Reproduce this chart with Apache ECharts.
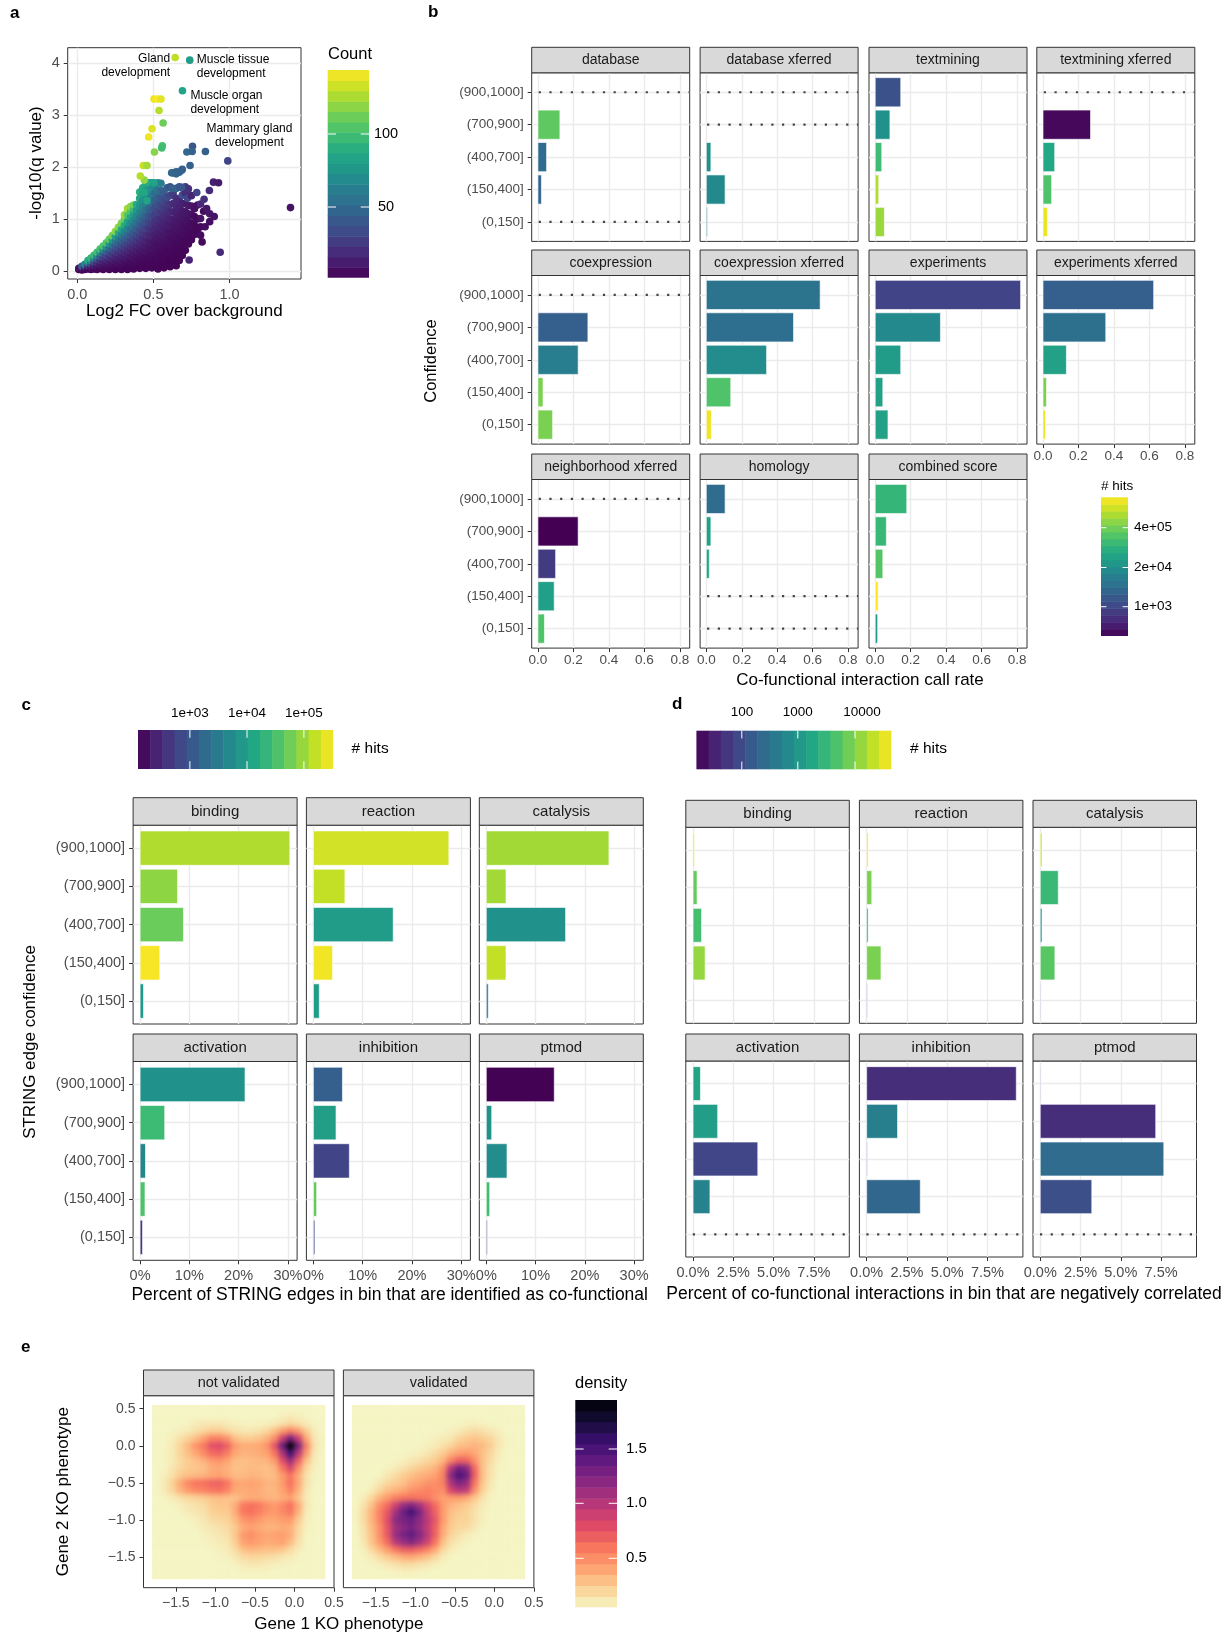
<!DOCTYPE html>
<html>
<head>
<meta charset="utf-8">
<script src="https://cdn.jsdelivr.net/npm/echarts@6.0.0/dist/echarts.min.js"></script>
<style>
  html, body { margin: 0; padding: 0; background: #fff; }
  #chart { width: 1228px; height: 1635px; }
</style>
</head>
<body>
<div id="chart"></div>
<script>
// ---------- data ----------
const binLabels = ['(900,1000]', '(700,900]', '(400,700]', '(150,400]', '(0,150]'];

// panel a: [log2 FC, -log10 q, count]
const aNamed = ['Gland\ndevelopment', 'Muscle tissue\ndevelopment', 'Muscle organ\ndevelopment', 'Mammary gland\ndevelopment'];
const aNamedPts = [[0.643, 4.11, 130], [0.739, 4.06, 80], [0.691, 3.47, 84], [0.842, 2.30, 45]];
const aPoints = [
  [0.01, 0.03, 4], [0.01, 0.05, 8],
  [0.03, 0.02, 3], [0.03, 0.05, 10], [0.03, 0.09, 45],
  [0.05, 0.03, 4], [0.05, 0.08, 22], [0.05, 0.13, 66],
  [0.07, 0.04, 5], [0.07, 0.1, 20], [0.07, 0.16, 60], [0.07, 0.2, 88],
  [0.09, 0.03, 4], [0.09, 0.08, 12], [0.09, 0.14, 32], [0.09, 0.2, 70], [0.09, 0.25, 95],
  [0.11, 0.04, 5], [0.11, 0.1, 13], [0.11, 0.17, 32], [0.11, 0.24, 62], [0.11, 0.3, 96],
  [0.13, 0.03, 4], [0.13, 0.09, 9], [0.13, 0.16, 20], [0.13, 0.23, 40], [0.13, 0.3, 68], [0.13, 0.36, 100],
  [0.15, 0.05, 5], [0.15, 0.12, 11], [0.15, 0.2, 22], [0.15, 0.28, 42], [0.15, 0.36, 72], [0.15, 0.42, 102],
  [0.17, 0.03, 4], [0.17, 0.1, 8], [0.17, 0.18, 15], [0.17, 0.26, 28], [0.17, 0.34, 46], [0.17, 0.42, 74], [0.17, 0.48, 104],
  [0.19, 0.06, 5], [0.19, 0.14, 10], [0.19, 0.22, 18], [0.19, 0.3, 30], [0.19, 0.38, 47], [0.19, 0.46, 72], [0.19, 0.54, 106],
  [0.21, 0.03, 4], [0.21, 0.1, 7], [0.21, 0.18, 13], [0.21, 0.27, 22], [0.21, 0.36, 35], [0.21, 0.45, 53], [0.21, 0.53, 78], [0.21, 0.61, 110],
  [0.23, 0.06, 5], [0.23, 0.14, 9], [0.23, 0.23, 16], [0.23, 0.32, 26], [0.23, 0.42, 40], [0.23, 0.51, 58], [0.23, 0.6, 82], [0.23, 0.68, 114],
  [0.25, 0.03, 3], [0.25, 0.1, 6], [0.25, 0.19, 11], [0.25, 0.28, 18], [0.25, 0.38, 29], [0.25, 0.48, 42], [0.25, 0.58, 60], [0.25, 0.67, 84], [0.25, 0.76, 120],
  [0.27, 0.06, 4], [0.27, 0.15, 8], [0.27, 0.24, 13], [0.27, 0.34, 21], [0.27, 0.44, 32], [0.27, 0.54, 46], [0.27, 0.64, 63], [0.27, 0.74, 88], [0.27, 0.84, 118],
  [0.29, 0.03, 3], [0.29, 0.11, 6], [0.29, 0.2, 10], [0.29, 0.3, 16], [0.29, 0.4, 24], [0.29, 0.5, 35], [0.29, 0.6, 48], [0.29, 0.7, 65], [0.29, 0.8, 86], [0.29, 0.92, 115],
  [0.31, 0.07, 4], [0.31, 0.16, 7], [0.31, 0.26, 12], [0.31, 0.36, 18], [0.31, 0.46, 27], [0.31, 0.56, 38], [0.31, 0.66, 50], [0.31, 0.76, 66], [0.31, 0.88, 88], [0.31, 1.0, 112], [0.31, 1.08, 122],
  [0.33, 0.03, 3], [0.33, 0.12, 5], [0.33, 0.22, 9], [0.33, 0.32, 14], [0.33, 0.42, 20], [0.33, 0.52, 29], [0.33, 0.62, 40], [0.33, 0.72, 52], [0.33, 0.82, 66], [0.33, 0.95, 84], [0.33, 1.08, 105], [0.33, 1.2, 124],
  [0.35, 0.08, 4], [0.35, 0.18, 6], [0.35, 0.28, 10], [0.35, 0.38, 15], [0.35, 0.48, 22], [0.35, 0.58, 30], [0.35, 0.68, 41], [0.35, 0.8, 54], [0.35, 0.92, 68], [0.35, 1.05, 86], [0.35, 1.15, 104], [0.35, 1.24, 120],
  [0.37, 0.04, 3], [0.37, 0.14, 5], [0.37, 0.24, 8], [0.37, 0.34, 12], [0.37, 0.44, 17], [0.37, 0.54, 24], [0.37, 0.64, 32], [0.37, 0.74, 42], [0.37, 0.86, 55], [0.37, 0.98, 68], [0.37, 1.1, 82], [0.37, 1.2, 96], [0.37, 1.27, 112],
  [0.39, 0.1, 4], [0.39, 0.2, 6], [0.39, 0.3, 9], [0.39, 0.4, 13], [0.39, 0.5, 18], [0.39, 0.6, 25], [0.39, 0.7, 33], [0.39, 0.82, 43], [0.39, 0.94, 55], [0.39, 1.06, 67], [0.39, 1.18, 78], [0.39, 1.28, 88],
  [0.41, 0.05, 3], [0.41, 0.16, 5], [0.41, 0.26, 7], [0.41, 0.36, 10], [0.41, 0.46, 14], [0.41, 0.56, 19], [0.41, 0.66, 26], [0.41, 0.78, 34], [0.41, 0.9, 44], [0.41, 1.02, 55], [0.41, 1.14, 66], [0.41, 1.26, 76], [0.41, 1.4, 86], [0.41, 1.52, 92],
  [0.43, 0.1, 4], [0.43, 0.22, 5], [0.43, 0.32, 8], [0.43, 0.42, 11], [0.43, 0.52, 15], [0.43, 0.62, 20], [0.43, 0.74, 27], [0.43, 0.86, 36], [0.43, 0.98, 45], [0.43, 1.1, 55], [0.43, 1.22, 64], [0.43, 1.35, 73], [0.43, 1.5, 82], [0.43, 1.6, 88],
  [0.45, 0.05, 3], [0.45, 0.17, 4], [0.45, 0.28, 6], [0.45, 0.38, 9], [0.45, 0.48, 12], [0.45, 0.58, 16], [0.45, 0.7, 22], [0.45, 0.82, 29], [0.45, 0.94, 37], [0.45, 1.06, 46], [0.45, 1.18, 55], [0.45, 1.3, 64], [0.45, 1.45, 74], [0.45, 1.55, 80], [0.45, 1.7, 84],
  [0.47, 0.12, 4], [0.47, 0.24, 5], [0.47, 0.35, 7], [0.47, 0.46, 10], [0.47, 0.58, 13], [0.47, 0.7, 18], [0.47, 0.82, 24], [0.47, 0.94, 30], [0.47, 1.06, 38], [0.47, 1.2, 47], [0.47, 1.34, 58], [0.47, 1.48, 68], [0.47, 1.62, 76], [0.47, 1.7, 80],
  [0.49, 0.06, 3], [0.49, 0.18, 4], [0.49, 0.3, 6], [0.49, 0.42, 8], [0.49, 0.54, 11], [0.49, 0.66, 15], [0.49, 0.78, 20], [0.49, 0.9, 25], [0.49, 1.02, 32], [0.49, 1.16, 40], [0.49, 1.3, 50], [0.49, 1.44, 60], [0.49, 1.58, 70], [0.49, 1.7, 76],
  [0.51, 0.1, 3], [0.51, 0.22, 4], [0.51, 0.34, 6], [0.51, 0.46, 8], [0.51, 0.58, 10], [0.51, 0.7, 13], [0.51, 0.82, 17], [0.51, 0.95, 22], [0.51, 1.08, 28], [0.51, 1.22, 35], [0.51, 1.36, 44], [0.51, 1.5, 54], [0.51, 1.62, 64],
  [0.53, 0.04, 3], [0.53, 0.16, 4], [0.53, 0.28, 5], [0.53, 0.4, 6], [0.53, 0.52, 8], [0.53, 0.64, 11], [0.53, 0.76, 14], [0.53, 0.88, 18], [0.53, 1.0, 23], [0.53, 1.14, 29], [0.53, 1.28, 37], [0.53, 1.42, 46], [0.53, 1.56, 56], [0.53, 1.7, 68],
  [0.55, 0.12, 3], [0.55, 0.24, 4], [0.55, 0.36, 5], [0.55, 0.48, 7], [0.55, 0.6, 9], [0.55, 0.72, 12], [0.55, 0.84, 15], [0.55, 0.98, 19], [0.55, 1.12, 25], [0.55, 1.26, 31], [0.55, 1.4, 39], [0.55, 1.55, 48], [0.55, 1.69, 62],
  [0.57, 0.06, 3], [0.57, 0.2, 4], [0.57, 0.32, 4], [0.57, 0.44, 6], [0.57, 0.56, 8], [0.57, 0.68, 10], [0.57, 0.8, 13], [0.57, 0.94, 16], [0.57, 1.08, 21], [0.57, 1.22, 27], [0.57, 1.35, 33], [0.57, 1.5, 42],
  [0.59, 0.14, 3], [0.59, 0.28, 4], [0.59, 0.4, 5], [0.59, 0.52, 7], [0.59, 0.64, 9], [0.59, 0.76, 11], [0.59, 0.9, 14], [0.59, 1.04, 18], [0.59, 1.18, 23], [0.59, 1.3, 28], [0.59, 1.42, 34], [0.59, 1.6, 44],
  [0.61, 0.08, 3], [0.61, 0.22, 3], [0.61, 0.36, 4], [0.61, 0.5, 6], [0.61, 0.62, 7], [0.61, 0.74, 9], [0.61, 0.88, 12], [0.61, 1.0, 15], [0.61, 1.14, 19], [0.61, 1.28, 24], [0.61, 1.45, 30], [0.61, 1.62, 38],
  [0.63, 0.16, 3], [0.63, 0.3, 4], [0.63, 0.44, 5], [0.63, 0.58, 6], [0.63, 0.72, 8], [0.63, 0.86, 10], [0.63, 1.0, 13], [0.63, 1.14, 16], [0.63, 1.3, 20], [0.63, 1.5, 27], [0.63, 1.89, 50],
  [0.65, 0.1, 3], [0.65, 0.26, 3], [0.65, 0.4, 4], [0.65, 0.54, 5], [0.65, 0.68, 7], [0.65, 0.82, 9], [0.65, 0.96, 11], [0.65, 1.1, 14], [0.65, 1.25, 17], [0.65, 1.4, 21], [0.65, 1.59, 48], [0.65, 1.91, 46],
  [0.67, 0.2, 3], [0.67, 0.34, 4], [0.67, 0.5, 5], [0.67, 0.64, 6], [0.67, 0.78, 8], [0.67, 0.92, 10], [0.67, 1.06, 12], [0.67, 1.2, 15], [0.67, 1.35, 18], [0.67, 1.62, 40], [0.67, 1.9, 45],
  [0.69, 0.3, 3], [0.69, 0.45, 4], [0.69, 0.6, 5], [0.69, 0.74, 7], [0.69, 0.88, 8], [0.69, 1.02, 10], [0.69, 1.16, 12], [0.69, 1.3, 15], [0.69, 1.46, 36], [0.69, 1.6, 38], [0.69, 1.96, 44],
  [0.71, 0.4, 3], [0.71, 0.56, 4], [0.71, 0.7, 6], [0.71, 0.84, 7], [0.71, 1.0, 9], [0.71, 1.14, 11], [0.71, 1.3, 13], [0.71, 1.5, 20], [0.71, 1.62, 24],
  [0.735, 0.21, 16], [0.73, 0.52, 4], [0.73, 0.66, 5], [0.73, 0.8, 6], [0.73, 0.95, 8], [0.73, 1.1, 10], [0.73, 1.26, 12], [0.724, 1.4, 32], [0.73, 1.58, 22], [0.741, 2.03, 44], [0.72, 2.29, 50],
  [0.75, 0.6, 4], [0.75, 0.76, 5], [0.75, 0.92, 6], [0.75, 1.08, 8], [0.75, 1.25, 10], [0.75, 1.45, 16], [0.757, 2.4, 40], [0.755, 2.3, 46],
  [0.77, 0.7, 4], [0.77, 0.88, 5], [0.77, 1.05, 6], [0.77, 1.2, 8], [0.785, 1.51, 30],
  [0.79, 0.8, 4], [0.79, 1.0, 5], [0.79, 1.27, 8],
  [0.82, 0.56, 6], [0.81, 0.69, 6], [0.81, 0.85, 5], [0.81, 1.01, 9], [0.81, 1.29, 18], [0.833, 1.38, 22],
  [0.84, 0.85, 7], [0.83, 1.15, 6], [0.85, 1.2, 10], [0.87, 1.1, 10], [0.87, 0.95, 7],
  [0.868, 1.55, 20], [0.895, 1.71, 14], [0.928, 1.7, 12], [0.9, 1.05, 9], [0.939, 0.36, 19],
  [0.62, 1.89, 48], [0.65, 1.87, 47], [0.686, 1.94, 45], [0.623, 1.59, 46], [0.686, 1.61, 40],
  [0.989, 2.12, 30], [1.401, 1.22, 9],
  [0.44, 1.51, 86], [0.458, 1.35, 84], [0.456, 1.7, 88], [0.504, 1.7, 83],
  [0.44, 1.75, 120], [0.414, 1.83, 128], [0.434, 2.03, 132], [0.458, 2.03, 124],
  [0.507, 2.29, 118], [0.559, 2.41, 102], [0.555, 2.37, 100], [0.469, 2.58, 141],
  [0.491, 2.74, 136], [0.564, 2.85, 112], [0.537, 3.09, 128],
  [0.504, 3.31, 140], [0.527, 3.31, 144], [0.55, 3.31, 138]
];

// panel b: co-functional call rate per confidence bin (top bin first), null = no edges
const bFacets = ['database', 'database xferred', 'textmining', 'textmining xferred',
  'coexpression', 'coexpression xferred', 'experiments', 'experiments xferred',
  'neighborhood xferred', 'homology', 'combined score'];
const bRate = [
  [null, 0.124, 0.049, 0.020, null],
  [null, null, 0.026, 0.106, 0.006],
  [0.144, 0.083, 0.037, 0.020, 0.052],
  [null, 0.268, 0.066, 0.049, 0.026],
  [null, 0.282, 0.227, 0.029, 0.083],
  [0.642, 0.492, 0.340, 0.138, 0.029],
  [0.820, 0.368, 0.144, 0.043, 0.072],
  [0.624, 0.354, 0.132, 0.020, 0.014],
  [null, 0.227, 0.100, 0.092, 0.037],
  [0.106, 0.026, 0.017, null, null],
  [0.178, 0.063, 0.043, 0.017, 0.014]
];
const bHits = [
  [null, 2.9e5, 4.3e3, 3.5e3, null],
  [null, null, 2.1e4, 1.5e4, 1.2e4],
  [1.5e3, 2.1e4, 1.4e5, 1.1e6, 8e5],
  [null, 135, 5.9e4, 2.1e5, 2.9e6],
  [null, 2.5e3, 9e3, 4.9e5, 4.9e5],
  [5.9e3, 4.8e3, 1.7e4, 2.1e5, 3.2e6],
  [900, 1.5e4, 3.5e4, 4.4e4, 4.4e4],
  [2.5e3, 5.2e3, 4.4e4, 4.9e5, 2.9e6],
  [null, 110, 650, 3.9e4, 2.1e5],
  [4.3e3, 4.4e4, 5.9e4, null, null],
  [1.1e5, 1.2e5, 2.3e5, 4e6, 3.5e4]
];

// panels c and d: STRING action types
const cFacets = ['binding', 'reaction', 'catalysis', 'activation', 'inhibition', 'ptmod'];
const cRate = [
  [0.304, 0.076, 0.088, 0.040, 0.007],
  [0.275, 0.064, 0.162, 0.039, 0.012],
  [0.249, 0.040, 0.161, 0.040, 0.004],
  [0.213, 0.050, 0.011, 0.010, 0.005],
  [0.059, 0.046, 0.073, 0.0067, 0.003],
  [0.138, 0.011, 0.042, 0.007, 0.002]
];
const cHits = [
  [1.26e5, 8.5e4, 5.3e4, 3e5, 8e3],
  [1.9e5, 1.6e5, 9.3e3, 2.8e5, 9.3e3],
  [1.07e5, 1.07e5, 6.3e3, 1.6e5, 2.9e3],
  [6.3e3, 2.6e4, 4.3e3, 3.5e4, 510],
  [1.3e3, 1e4, 590, 4.9e4, 690],
  [125, 6.3e3, 5.4e3, 2.8e4, 590]
];
const dRate = [
  [0.0009, 0.0025, 0.0053, 0.0075, 0.0002],
  [0.0009, 0.0032, 0.0009, 0.0089, 0.0002],
  [0.0011, 0.0112, 0.0011, 0.0091, 0.0002],
  [0.0046, 0.0153, 0.0402, 0.0105, null],
  [0.0929, 0.0192, 0.0002, 0.0333, null],
  [0.0002, 0.0717, 0.0767, 0.0320, null]
];
const dHits = [
  [3.5e4, 6.6e3, 4.1e3, 1.26e4, 35],
  [3.5e4, 9.1e3, 1.26e3, 9.1e3, 35],
  [2.4e4, 3.2e3, 980, 5.6e3, 35],
  [1.6e3, 1.26e3, 83, 520, null],
  [45, 480, 35, 220, null],
  [35, 45, 260, 107, null]
];

// panel e: 2D density of KO phenotypes, cell centres
const eCols = [-1.75, -1.65, -1.55, -1.45, -1.35, -1.25, -1.15, -1.05, -0.95, -0.85, -0.75,
  -0.65, -0.55, -0.45, -0.35, -0.25, -0.15, -0.05, 0.05, 0.15, 0.25, 0.35];
const eRows = [0.5, 0.4, 0.3, 0.2, 0.1, 0.0, -0.1, -0.2, -0.3, -0.4, -0.5, -0.6,
  -0.7, -0.8, -0.9, -1.0, -1.1, -1.2, -1.3, -1.4, -1.5, -1.6, -1.7, -1.8];
const eNotValidated = [
  [.05,.05,.05,.05,.05,.05,.05,.05,.05,.05,.05,.05,.05,.05,.05,.05,.05,.05,.05,.05,.05,.05],
  [.05,.05,.05,.05,.05,.05,.05,.05,.05,.05,.05,.05,.05,.05,.05,.05,.08,.1,.08,.06,.05,.05],
  [.05,.05,.05,.05,.06,.1,.12,.12,.12,.1,.08,.07,.07,.07,.08,.1,.15,.2,.15,.1,.06,.05],
  [.05,.05,.06,.08,.1,.15,.2,.25,.25,.2,.15,.12,.12,.15,.2,.3,.45,.55,.45,.25,.1,.05],
  [.05,.05,.08,.15,.22,.3,.42,.55,.55,.48,.3,.25,.25,.28,.35,.5,.9,1.3,.9,.4,.12,.06],
  [.05,.06,.1,.2,.32,.48,.58,.78,.82,.7,.45,.38,.38,.4,.48,.75,1.35,1.95,1.3,.55,.15,.06],
  [.05,.06,.1,.2,.3,.4,.52,.65,.68,.58,.4,.35,.36,.38,.42,.6,1.05,1.55,1.0,.45,.12,.05],
  [.05,.06,.1,.18,.25,.3,.36,.45,.48,.42,.32,.3,.32,.33,.35,.45,.8,1.15,.7,.3,.1,.05],
  [.05,.06,.12,.2,.25,.28,.3,.38,.4,.36,.3,.3,.32,.32,.3,.35,.6,.85,.5,.2,.08,.05],
  [.05,.08,.15,.25,.3,.32,.35,.4,.42,.38,.32,.32,.35,.33,.3,.32,.45,.6,.38,.15,.06,.05],
  [.05,.1,.22,.38,.52,.6,.62,.68,.7,.6,.42,.4,.42,.4,.35,.35,.45,.62,.4,.15,.06,.05],
  [.05,.1,.2,.34,.45,.52,.55,.6,.62,.55,.4,.38,.4,.38,.33,.33,.42,.55,.35,.12,.05,.05],
  [.05,.06,.1,.15,.2,.22,.25,.3,.32,.3,.3,.35,.38,.38,.35,.33,.38,.42,.28,.1,.05,.05],
  [.05,.05,.06,.08,.12,.15,.18,.25,.28,.28,.38,.58,.62,.58,.5,.45,.52,.62,.38,.12,.05,.05],
  [.05,.05,.05,.06,.1,.12,.15,.22,.25,.25,.38,.58,.62,.55,.48,.45,.52,.58,.35,.1,.05,.05],
  [.05,.05,.05,.05,.06,.08,.12,.18,.2,.22,.32,.46,.5,.46,.4,.4,.44,.45,.26,.08,.05,.05],
  [.05,.05,.05,.05,.05,.06,.1,.12,.15,.18,.26,.38,.42,.38,.35,.35,.38,.36,.2,.07,.05,.05],
  [.05,.05,.05,.05,.05,.05,.07,.1,.12,.15,.27,.45,.5,.44,.4,.42,.44,.38,.18,.06,.05,.05],
  [.05,.05,.05,.05,.05,.05,.06,.08,.1,.12,.24,.42,.46,.42,.38,.4,.42,.32,.15,.06,.05,.05],
  [.05,.05,.05,.05,.05,.05,.05,.06,.08,.1,.18,.3,.34,.32,.3,.3,.27,.18,.1,.05,.05,.05],
  [.05,.05,.05,.05,.05,.05,.05,.05,.06,.07,.12,.18,.2,.2,.18,.16,.12,.1,.06,.05,.05,.05],
  [.05,.05,.05,.05,.05,.05,.05,.05,.05,.05,.07,.1,.12,.12,.1,.08,.07,.06,.05,.05,.05,.05],
  [.05,.05,.05,.05,.05,.05,.05,.05,.05,.05,.05,.06,.06,.06,.06,.05,.05,.05,.05,.05,.05,.05],
  [.05,.05,.05,.05,.05,.05,.05,.05,.05,.05,.05,.05,.05,.05,.05,.05,.05,.05,.05,.05,.05,.05]
];
const eValidated = [
  [.05,.05,.05,.05,.05,.05,.05,.05,.05,.05,.05,.05,.05,.05,.05,.05,.05,.05,.05,.05,.05,.05],
  [.05,.05,.05,.05,.05,.05,.05,.05,.05,.05,.05,.05,.05,.05,.05,.05,.05,.05,.05,.05,.05,.05],
  [.05,.05,.05,.05,.05,.05,.05,.05,.05,.05,.05,.05,.05,.06,.07,.08,.07,.06,.05,.05,.05,.05],
  [.05,.05,.05,.05,.05,.05,.05,.05,.05,.05,.05,.06,.08,.1,.15,.18,.15,.12,.08,.05,.05,.05],
  [.05,.05,.05,.05,.05,.05,.05,.05,.05,.06,.08,.1,.12,.2,.25,.28,.25,.2,.12,.06,.05,.05],
  [.05,.05,.05,.05,.05,.05,.05,.05,.06,.08,.1,.15,.22,.3,.32,.35,.32,.25,.12,.06,.05,.05],
  [.05,.05,.05,.05,.05,.05,.06,.07,.08,.12,.18,.25,.35,.42,.45,.4,.3,.2,.1,.05,.05,.05],
  [.05,.05,.05,.05,.05,.06,.08,.12,.15,.2,.25,.35,.55,.7,.68,.5,.3,.18,.08,.05,.05,.05],
  [.05,.05,.05,.05,.07,.1,.15,.2,.25,.3,.35,.5,1.0,1.3,1.2,.65,.3,.15,.06,.05,.05,.05],
  [.05,.05,.05,.06,.12,.18,.25,.3,.35,.38,.42,.55,1.2,1.5,1.35,.7,.3,.15,.06,.05,.05,.05],
  [.05,.05,.06,.12,.2,.25,.3,.38,.42,.48,.5,.55,1.05,1.25,1.15,.6,.28,.12,.05,.05,.05,.05],
  [.05,.05,.1,.2,.3,.35,.4,.48,.52,.55,.52,.5,.85,1.0,.95,.5,.22,.1,.05,.05,.05,.05],
  [.05,.1,.2,.35,.45,.55,.6,.62,.6,.58,.5,.42,.45,.45,.4,.28,.15,.07,.05,.05,.05,.05],
  [.06,.15,.3,.5,.65,.9,1.15,1.25,1.1,.85,.65,.45,.35,.3,.25,.18,.1,.06,.05,.05,.05,.05],
  [.06,.18,.35,.55,.75,1.1,1.35,1.55,1.3,.95,.7,.45,.3,.25,.22,.15,.08,.05,.05,.05,.05,.05],
  [.06,.18,.35,.55,.8,1.2,1.3,1.35,1.2,1.0,.75,.45,.28,.22,.22,.15,.08,.05,.05,.05,.05,.05],
  [.05,.15,.32,.5,.75,1.1,1.2,1.3,1.15,.95,.7,.4,.25,.2,.18,.12,.06,.05,.05,.05,.05,.05],
  [.05,.15,.3,.5,.75,1.15,1.3,1.4,1.25,1.0,.7,.38,.22,.15,.1,.07,.05,.05,.05,.05,.05,.05],
  [.05,.12,.28,.45,.65,1.0,1.15,1.25,1.1,.9,.6,.3,.15,.1,.07,.05,.05,.05,.05,.05,.05,.05],
  [.05,.08,.2,.32,.45,.6,.7,.72,.65,.55,.4,.2,.1,.07,.05,.05,.05,.05,.05,.05,.05,.05],
  [.05,.06,.1,.18,.25,.32,.38,.4,.35,.3,.2,.1,.06,.05,.05,.05,.05,.05,.05,.05,.05,.05],
  [.05,.05,.06,.08,.12,.15,.18,.18,.15,.12,.08,.06,.05,.05,.05,.05,.05,.05,.05,.05,.05,.05],
  [.05,.05,.05,.05,.06,.07,.08,.08,.07,.06,.05,.05,.05,.05,.05,.05,.05,.05,.05,.05,.05,.05],
  [.05,.05,.05,.05,.05,.05,.05,.05,.05,.05,.05,.05,.05,.05,.05,.05,.05,.05,.05,.05,.05,.05]
];

// ---------- colours ----------
const FONT = '"Liberation Sans", Arial, Helvetica, sans-serif';
const VIRIDIS = ['#440154', '#482475', '#414487', '#355f8d', '#2a788e', '#21918c', '#22a884', '#44bf70', '#7ad151', '#bddf26', '#fde725'];
const MAGMA = ['#000004', '#140e36', '#3b0f70', '#641a80', '#8c2981', '#b73779', '#de4968', '#f7705c', '#fe9f6d', '#fbcf92', '#f5f5c4'];

function rgbOf(h) { return [1, 3, 5].map(k => parseInt(h.slice(k, k + 2), 16)); }
function palette(stops, t) {
  t = Math.max(0, Math.min(1, t));
  const p = t * (stops.length - 1);
  const i = Math.min(Math.floor(p), stops.length - 2);
  const f = p - i, a = rgbOf(stops[i]), b = rgbOf(stops[i + 1]);
  return 'rgb(' + a.map((v, k) => Math.round(v + (b[k] - v) * f)).join(',') + ')';
}
const countColor = c => palette(VIRIDIS, (c - 1.6) / 142.2);
const bColor = h => palette(VIRIDIS, (Math.log10(h) - 2.035) / 4.565);
const cColor = h => palette(VIRIDIS, (Math.log10(h) - 2.09) / 3.42);
const dColor = h => palette(VIRIDIS, (Math.log10(h) - 1.2) / 3.45);
const densityColor = v => palette(MAGMA, 1 - (v - 0.05) / 1.9);

// ---------- builders ----------
const grids = [], xAxes = [], yAxes = [], series = [], graphics = [];

function makeAxis(gi, s) {
  return {
    type: 'value', gridIndex: gi, min: s.min, max: s.max,
    axisLine: { show: false, onZero: false },
    axisTick: { show: !!s.labels, length: 4, lineStyle: { color: '#333', width: 1 }, customValues: s.ticks },
    axisLabel: { show: !!s.labels, customValues: s.ticks, formatter: s.fmt, color: '#4d4d4d',
      fontSize: s.fs, fontFamily: FONT, margin: s.margin },
    splitLine: { show: s.grid !== false, lineStyle: { color: '#ebebeb', width: 1.4 } }
  };
}
function addPanel(box, xs, ys) {
  const gi = grids.length;
  grids.push({ left: box[0], top: box[1], width: box[2], height: box[3], show: true,
    backgroundColor: '#fff', borderColor: '#333', borderWidth: 1, containLabel: false, outerBoundsMode: 'none' });
  xAxes.push(makeAxis(gi, xs));
  yAxes.push(makeAxis(gi, ys));
  return gi;
}
function text(str, x, y, o) {
  graphics.push({ type: 'text', x, y, rotation: o.rot || 0, z: 100,
    style: { text: str, fontSize: o.fs, fontFamily: FONT, fontWeight: o.bold ? 'bold' : 'normal',
      fill: o.color || '#000', align: o.align || 'center', verticalAlign: o.va || 'middle' } });
}
function strip(x, y, w, h, label, fs) {
  graphics.push({ type: 'rect', z: 90, shape: { x, y, width: w, height: h },
    style: { fill: '#d9d9d9', stroke: '#333', lineWidth: 1 } });
  text(label, x + w / 2, y + h / 2 + 0.5, { fs, color: '#1a1a1a' });
}
function barSeries(gi, rates, hits, colorFn) {
  const data = [], colors = [];
  rates.forEach((r, k) => {
    if (r === null) return;
    data.push([r, 5 - k]);
    colors.push(colorFn(hits[k]));
  });
  return {
    type: 'custom', xAxisIndex: gi, yAxisIndex: gi, data, encode: { x: 0, y: 1 }, silent: true,
    renderItem(params, api) {
      const v = api.value(0), c = api.value(1);
      const a = api.coord([0, c + 0.45]), b = api.coord([v, c - 0.45]);
      return { type: 'rect', shape: { x: a[0], y: a[1], width: Math.max(b[0] - a[0], 0.5), height: b[1] - a[1] },
        style: { fill: colors[params.dataIndex], stroke: 'rgba(255,255,255,0.8)', lineWidth: 0.8 } };
    }
  };
}
function naSeries(gi, rates, xMin, xMax) {
  const data = [];
  rates.forEach((r, k) => { if (r === null) data.push([xMin, 5 - k]); });
  return {
    type: 'custom', xAxisIndex: gi, yAxisIndex: gi, data, encode: { x: 0, y: 1 }, silent: true,
    renderItem(params, api) {
      const c = api.value(1);
      const a = api.coord([xMin, c]), b = api.coord([xMax, c]);
      return { type: 'line', shape: { x1: a[0], y1: a[1], x2: b[0], y2: b[1] },
        style: { stroke: '#444', lineWidth: 2.2, lineDash: [2.2, 8.5], lineDashOffset: -7 } };
    }
  };
}
// density cells; the outer ring is padded so the soft edge stays inside the clipped raster
const E_EXT = [-1.8, 0.39, -1.8, 0.55];
function rasterSeries(gi, dens) {
  const data = [], colors = [];
  eRows.forEach((yv, j) => eCols.forEach((xv, i) => {
    data.push([xv, yv]);
    colors.push(densityColor(dens[j][i]));
  }));
  const nc = eCols.length, nr = eRows.length;
  return {
    type: 'custom', xAxisIndex: gi, yAxisIndex: gi, data, encode: { x: 0, y: 1 }, silent: true, zlevel: 1,
    renderItem(params, api) {
      const x = api.value(0), y = api.value(1);
      const i = params.dataIndex % nc, j = Math.floor(params.dataIndex / nc);
      const pad = 0.15;
      const a = api.coord([x - 0.05 - (i === 0 ? pad : 0), y + 0.05 + (j === 0 ? pad : 0)]);
      const b = api.coord([x + 0.05 + (i === nc - 1 ? pad : 0), y - 0.05 - (j === nr - 1 ? pad : 0)]);
      return { type: 'rect', shape: { x: a[0], y: a[1], width: b[0] - a[0] + 0.4, height: b[1] - a[1] + 0.4 },
        style: { fill: colors[params.dataIndex] } };
    }
  };
}
function vColorbar(x, y, w, h, n, colorAt, ticks) {
  for (let i = 0; i < n; i++) {
    graphics.push({ type: 'rect', z: 50, shape: { x, y: y + h - (i + 1) * h / n, width: w, height: h / n + (i ? 0.5 : 0) },
      style: { fill: colorAt((i + 0.5) / n) } });
  }
  ticks.forEach(ty => {
    [[x, x + w / 5], [x + w - w / 5, x + w]].forEach(seg => graphics.push({ type: 'line', z: 51,
      shape: { x1: seg[0], y1: ty, x2: seg[1], y2: ty }, style: { stroke: '#fff', lineWidth: 1 } }));
  });
}
function hColorbar(x, y, w, h, n, colorAt, ticks) {
  for (let i = 0; i < n; i++) {
    graphics.push({ type: 'rect', z: 50, shape: { x: x + i * w / n, y, width: w / n + (i < n - 1 ? 0.5 : 0), height: h },
      style: { fill: colorAt((i + 0.5) / n) } });
  }
  ticks.forEach(tx => {
    [[y, y + h / 5], [y + h - h / 5, y + h]].forEach(seg => graphics.push({ type: 'line', z: 51,
      shape: { x1: tx, y1: seg[0], x2: tx, y2: seg[1] }, style: { stroke: '#fff', lineWidth: 1 } }));
  });
}

// ---------- panel a ----------
const ga = addPanel([67.7, 47.7, 233.3, 231.3],
  { min: -0.063, max: 1.47, ticks: [0, 0.5, 1], fmt: v => v.toFixed(1), labels: true, fs: 14.5, margin: 8 },
  { min: -0.155, max: 4.3, ticks: [0, 1, 2, 3, 4], fmt: v => String(v), labels: true, fs: 14.5, margin: 8 });
const aLabelLayout = [
  { align: 'right', offset: [-5, 8] },
  { align: 'left', offset: [7, 7] },
  { align: 'left', offset: [8, 11.5] },
  { align: 'center', offset: [44, -16] }
];
const aData = aPoints.map(p => ({ value: [p[0], p[1]], itemStyle: { color: countColor(p[2]) } }));
aNamedPts.forEach((p, k) => aData.push({
  value: [p[0], p[1]], itemStyle: { color: countColor(p[2]) },
  label: { show: true, formatter: aNamed[k], position: 'inside', align: aLabelLayout[k].align, verticalAlign: 'middle',
    offset: aLabelLayout[k].offset, color: '#000', fontSize: 12, lineHeight: 14, fontFamily: FONT }
}));
series.push({ type: 'scatter', xAxisIndex: ga, yAxisIndex: ga, symbol: 'circle', symbolSize: 7.6,
  data: aData, silent: true, itemStyle: { opacity: 1 } });
text('Log2 FC over background', 184.4, 311.5, { fs: 17 });
text('-log10(q value)', 36, 163, { fs: 17, rot: Math.PI / 2 });
text('Count', 328, 54, { fs: 16.5, align: 'left' });
vColorbar(327.7, 70, 41.3, 207.7, 20, t => palette(VIRIDIS, t), [134, 207]);
text('100', 386, 134, { fs: 14.5, color: '#000' });
text('50', 386, 207, { fs: 14.5, color: '#000' });

// ---------- panel b ----------
const bColLeft = [531.7, 700.1, 869.0, 1036.8];
const bStripTop = [47.3, 250, 454];
const B_W = 158, B_SH = 25.5, B_H = 168.6;
const bX = { min: -0.035, max: 0.856, ticks: [0, 0.2, 0.4, 0.6, 0.8], fmt: v => v.toFixed(1), fs: 13.5, margin: 5 };
const bY = { min: 0.4, max: 5.6, ticks: [1, 2, 3, 4, 5], fmt: v => binLabels[5 - v], fs: 13.5, margin: 8 };
bFacets.forEach((name, i) => {
  const r = Math.floor(i / 4), c = i % 4;
  const left = bColLeft[c], top = bStripTop[r] + B_SH;
  const gi = addPanel([left, top, B_W, B_H],
    Object.assign({}, bX, { labels: r === 2 || (r === 1 && c === 3) }),
    Object.assign({}, bY, { labels: c === 0 }));
  series.push(barSeries(gi, bRate[i], bHits[i], bColor));
  series.push(naSeries(gi, bRate[i], bX.min, bX.max));
  strip(left, bStripTop[r], B_W, B_SH, name, 14);
});
text('Co-functional interaction call rate', 860, 680, { fs: 17 });
text('Confidence', 431, 361, { fs: 16.5, rot: Math.PI / 2 });
text('# hits', 1101, 486, { fs: 13.5, align: 'left' });
vColorbar(1101, 497.3, 27, 138.7, 20, t => palette(VIRIDIS, t), [527.7, 567.5, 606.7]);
text('4e+05', 1134, 527.7, { fs: 13.5, align: 'left' });
text('2e+04', 1134, 567.5, { fs: 13.5, align: 'left' });
text('1e+03', 1134, 606.7, { fs: 13.5, align: 'left' });

// ---------- panel c ----------
const cColLeft = [133.1, 306.4, 479.3];
const cStripTop = [797.7, 1034];
const C_W = 164, C_SH = 27.5, C_H = 198.8;
const cX = { min: -0.0142, max: 0.3187, ticks: [0, 0.1, 0.2, 0.3], fmt: v => Math.round(v * 100) + '%', fs: 14.5, margin: 8 };
const cY = { min: 0.4, max: 5.6, ticks: [1, 2, 3, 4, 5], fmt: v => binLabels[5 - v], fs: 14.5, margin: 8 };
cFacets.forEach((name, i) => {
  const r = Math.floor(i / 3), c = i % 3;
  const left = cColLeft[c], top = cStripTop[r] + C_SH;
  const gi = addPanel([left, top, C_W, C_H],
    Object.assign({}, cX, { labels: r === 1 }),
    Object.assign({}, cY, { labels: c === 0 }));
  series.push(barSeries(gi, cRate[i], cHits[i], cColor));
  strip(left, cStripTop[r], C_W, C_SH, name, 15);
});
text('STRING edge confidence', 30, 1042, { fs: 17, rot: Math.PI / 2 });
text('Percent of STRING edges in bin that are identified as co-functional', 389.7, 1295, { fs: 17.5 });
hColorbar(138, 730, 195, 39, 16, t => palette(VIRIDIS, t), [189.9, 247, 303.9]);
text('1e+03', 189.9, 713, { fs: 13.5, color: '#000' });
text('1e+04', 247, 713, { fs: 13.5, color: '#000' });
text('1e+05', 303.9, 713, { fs: 13.5, color: '#000' });
text('# hits', 351.6, 749, { fs: 15.5, align: 'left' });

// ---------- panel d ----------
const dColLeft = [685.8, 859.4, 1033];
const dStripTop = [800.3, 1034];
const D_W = 163.5, D_SH = 27, D_H = 196;
const dX = { min: -0.0045, max: 0.097, ticks: [0, 0.025, 0.05, 0.075], fmt: v => (v * 100).toFixed(1) + '%', fs: 14.5, margin: 8 };
const dY = { min: 0.4, max: 5.6, ticks: [1, 2, 3, 4, 5], fmt: v => binLabels[5 - v], fs: 14.5, margin: 8 };
cFacets.forEach((name, i) => {
  const r = Math.floor(i / 3), c = i % 3;
  const left = dColLeft[c], top = dStripTop[r] + D_SH;
  const gi = addPanel([left, top, D_W, D_H],
    Object.assign({}, dX, { labels: r === 1 }),
    Object.assign({}, dY, { labels: false }));
  series.push(barSeries(gi, dRate[i], dHits[i], dColor));
  series.push(naSeries(gi, dRate[i], dX.min, dX.max));
  strip(left, dStripTop[r], D_W, D_SH, name, 15);
});
text('Percent of co-functional interactions in bin that are negatively correlated', 944, 1294, { fs: 17.5 });
hColorbar(696.4, 730.7, 195, 38.6, 16, t => palette(VIRIDIS, t), [741.8, 797.8, 855]);
text('100', 742, 712, { fs: 13.5, color: '#000' });
text('1000', 797.8, 712, { fs: 13.5, color: '#000' });
text('10000', 862, 712, { fs: 13.5, color: '#000' });
text('# hits', 910, 749, { fs: 15.5, align: 'left' });

// ---------- panel e ----------
const minus = v => v.toFixed(1).replace('-', '\u2212');
const eColLeft = [143.5, 343.4];
const eX = { min: -1.908, max: 0.5, ticks: [-1.5, -1, -0.5, 0, 0.5], fmt: minus, fs: 14, margin: 8, grid: false, labels: true };
const eY = { min: -1.914, max: 0.675, ticks: [-1.5, -1, -0.5, 0, 0.5], fmt: minus, fs: 14, margin: 8, grid: false };
const eGrids = [];
[['not validated', eNotValidated], ['validated', eValidated]].forEach((f, c) => {
  const gi = addPanel([eColLeft[c], 1395.7, 190.5, 192], eX, Object.assign({}, eY, { labels: c === 0 }));
  eGrids.push(gi);
  series.push(rasterSeries(gi, f[1]));
  strip(eColLeft[c], 1370, 190.5, 25.7, f[0], 14.5);
});
text('Gene 1 KO phenotype', 338.8, 1624, { fs: 17 });
text('Gene 2 KO phenotype', 63, 1491.7, { fs: 17, rot: Math.PI / 2 });
text('density', 575, 1383, { fs: 16.5, align: 'left' });
vColorbar(575.3, 1400, 41.7, 207.3, 19, t => densityColor(0.052 + t * 1.896), [1449, 1503.3, 1558.3]);
text('1.5', 626, 1449, { fs: 15, align: 'left' });
text('1.0', 626, 1503.3, { fs: 15, align: 'left' });
text('0.5', 626, 1558.3, { fs: 15, align: 'left' });

// ---------- panel letters ----------
text('a', 10, 13, { fs: 17, bold: true, align: 'left' });
text('b', 428, 12.5, { fs: 17, bold: true, align: 'left' });
text('c', 21.5, 705, { fs: 17, bold: true, align: 'left' });
text('d', 672, 704, { fs: 17, bold: true, align: 'left' });
text('e', 21, 1347, { fs: 17, bold: true, align: 'left' });

const chart = echarts.init(document.getElementById('chart'), null, { renderer: 'canvas' });
chart.setOption({
  animation: false,
  backgroundColor: '#fff',
  textStyle: { fontFamily: FONT },
  grid: grids,
  xAxis: xAxes,
  yAxis: yAxes,
  series: series,
  graphic: { elements: graphics }
});

// smooth the density raster like an interpolated raster, clipped to the raster extent
function softenRaster() {
  try {
    const layer = chart.getZr().painter.getLayer(1);
    if (!layer || !layer.dom) return;
    const path = eGrids.map(gi => {
      const a = chart.convertToPixel({ gridIndex: gi }, [E_EXT[0], E_EXT[3]]);
      const b = chart.convertToPixel({ gridIndex: gi }, [E_EXT[1], E_EXT[2]]);
      return 'M' + a[0] + ' ' + a[1] + 'H' + b[0] + 'V' + b[1] + 'H' + a[0] + 'Z';
    }).join('');
    layer.dom.style.filter = 'blur(2.5px)';
    layer.dom.style.clipPath = "path('" + path + "')";
  } catch (e) { console.error(e); }
}
softenRaster();
chart.on('finished', softenRaster);
</script>
</body>
</html>
